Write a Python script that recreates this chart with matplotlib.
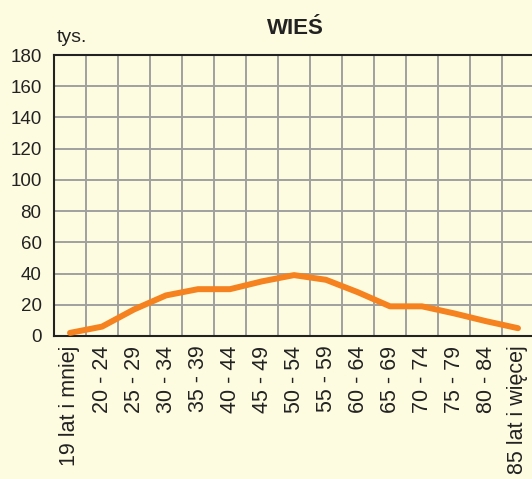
import matplotlib.pyplot as plt
import numpy as np

plt.rcParams['font.family'] = ['Liberation Sans', 'DejaVu Sans']

age_groups = ['19 lat i mniej', '20 - 24', '25 - 29', '30 - 34', '35 - 39', '40 - 44',
              '45 - 49', '50 - 54', '55 - 59', '60 - 64', '65 - 69', '70 - 74',
              '75 - 79', '80 - 84', '85 lat i więcej']
population = [2, 6, 17, 26, 30, 30, 35, 39, 36, 28, 19, 19, 14.5, 9.5, 5]
y_ticks = [0, 20, 40, 60, 80, 100, 120, 140, 160, 180]

bg = '#FEFCE0'
fig = plt.figure(figsize=(5.32, 4.79), dpi=100, facecolor=bg)
ax = fig.add_axes([54/532, 143/479, 480/532, 281/479], facecolor=bg)

x = np.arange(len(age_groups))
ax.plot(x, population, color='#F5821F', linewidth=4.3, solid_capstyle='round', zorder=3)

ax.set_xlim(-0.5, len(age_groups) - 0.5)
ax.set_ylim(0, 180)
ax.set_yticks(y_ticks)
ax.set_yticklabels([str(v) for v in y_ticks], fontsize=13.5, color='#222222')
ax.set_xticks(x)
ax.set_xticklabels(age_groups, rotation=90, fontsize=15.5, color='#222222', va='top')
ax.set_xticks(np.arange(-0.5, len(age_groups), 1), minor=True)
ax.tick_params(axis='both', which='both', length=0)
ax.tick_params(axis='x', pad=7)
ax.tick_params(axis='y', pad=9)
ax.grid(True, which='minor', axis='x', color='#a0a0a0', linewidth=1.4)
ax.grid(True, which='major', axis='y', color='#a0a0a0', linewidth=1.4)

for side in ['left', 'top', 'bottom']:
    ax.spines[side].set_color('#222222')
    ax.spines[side].set_linewidth(1.5)
ax.spines['right'].set_visible(False)

fig.text(295/532, 1 - 28/479, 'WIEŚ', ha='center', va='center', fontsize=16, fontweight='bold', color='#222222')
fig.text(57/532, 1 - 38/479, 'tys.', ha='left', va='center', fontsize=14, color='#222222')

fig.savefig('out.png', dpi=100, facecolor=bg)
